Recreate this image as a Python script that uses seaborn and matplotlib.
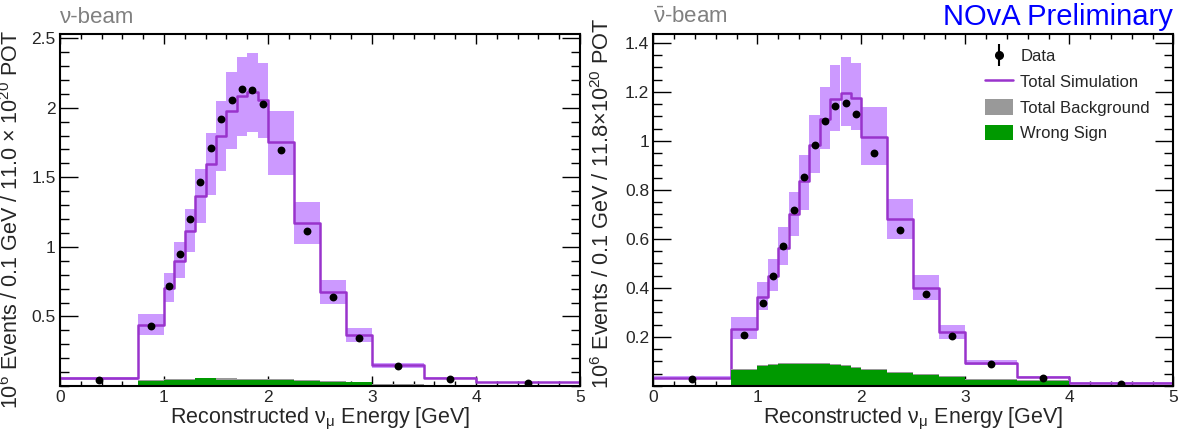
import numpy as np
import pandas as pd
import matplotlib
matplotlib.use("Agg")
import matplotlib.pyplot as plt
from matplotlib.lines import Line2D
from matplotlib.patches import Patch
from matplotlib.legend_handler import HandlerTuple
from matplotlib.ticker import FixedLocator, MultipleLocator
import seaborn as sns

# ---------------------------------------------------------------- data
# Reconstructed energy binning [GeV]
bin_edges = [0.0, 0.75, 1.0, 1.1, 1.2, 1.3, 1.4, 1.5, 1.6, 1.7, 1.8, 1.9,
             2.0, 2.25, 2.5, 2.75, 3.0, 3.5, 4.0, 5.0]

# Neutrino beam: 10^6 events / 0.1 GeV
nu_sim = [0.055, 0.44, 0.703, 0.898, 1.111, 1.366, 1.593, 1.795, 1.979, 2.082,
          2.11, 2.058, 1.752, 1.175, 0.679, 0.364, 0.154, 0.056, 0.027]
nu_sim_lo = [0.045, 0.364, 0.607, 0.774, 0.96, 1.175, 1.373, 1.545, 1.70, 1.80,
             1.824, 1.781, 1.519, 1.02, 0.586, 0.316, 0.132, 0.048, 0.022]
nu_sim_hi = [0.065, 0.52, 0.81, 1.032, 1.27, 1.557, 1.82, 2.046, 2.254, 2.368,
             2.392, 2.325, 1.979, 1.323, 0.762, 0.417, 0.168, 0.064, 0.032]
nu_data = [0.045, 0.428, 0.722, 0.948, 1.201, 1.469, 1.71, 1.917, 2.058, 2.137,
           2.13, 2.029, 1.695, 1.115, 0.643, 0.342, 0.142, 0.049, 0.018]
nu_bkg = [0.001, 0.041, 0.049, 0.049, 0.049, 0.058, 0.058, 0.054, 0.054, 0.049,
          0.049, 0.048, 0.047, 0.040, 0.033, 0.028, 0.012, 0.005, 0.002]
nu_wrong_sign = [0.0, 0.039, 0.046, 0.046, 0.046, 0.054, 0.054, 0.044, 0.044, 0.044,
                 0.044, 0.044, 0.044, 0.037, 0.030, 0.026, 0.010, 0.004, 0.002]

# Antineutrino beam: 10^6 events / 0.1 GeV
anu_sim = [0.0345, 0.232, 0.362, 0.448, 0.565, 0.70, 0.836, 0.982, 1.089, 1.169,
           1.195, 1.176, 1.016, 0.681, 0.40, 0.219, 0.0955, 0.036, 0.014]
anu_sim_lo = [0.030, 0.192, 0.312, 0.389, 0.495, 0.61, 0.72, 0.867, 0.965, 1.039,
              1.062, 1.043, 0.90, 0.599, 0.351, 0.19, 0.085, 0.031, 0.011]
anu_sim_hi = [0.039, 0.281, 0.423, 0.52, 0.647, 0.793, 0.944, 1.104, 1.22, 1.31,
              1.342, 1.317, 1.138, 0.764, 0.452, 0.247, 0.108, 0.041, 0.017]
anu_data = [0.028, 0.209, 0.34, 0.45, 0.572, 0.717, 0.852, 0.982, 1.08, 1.143,
            1.156, 1.11, 0.951, 0.637, 0.376, 0.205, 0.0914, 0.0345, 0.01]
anu_bkg = [0.002, 0.068, 0.084, 0.090, 0.094, 0.095, 0.095, 0.094, 0.093, 0.089,
           0.084, 0.079, 0.071, 0.058, 0.049, 0.039, 0.030, 0.023, 0.005]
anu_wrong_sign = [0.0, 0.064, 0.080, 0.086, 0.090, 0.091, 0.091, 0.090, 0.089, 0.085,
                  0.080, 0.075, 0.067, 0.054, 0.045, 0.035, 0.026, 0.019, 0.003]

x_ticks = [0, 1, 2, 3, 4, 5]
x_tick_labels = ["0", "1", "2", "3", "4", "5"]
nu_y_ticks = [0.5, 1.0, 1.5, 2.0, 2.5]
nu_y_tick_labels = ["0.5", "1", "1.5", "2", "2.5"]
anu_y_ticks = [0.2, 0.4, 0.6, 0.8, 1.0, 1.2, 1.4]
anu_y_tick_labels = ["0.2", "0.4", "0.6", "0.8", "1", "1.2", "1.4"]

# ---------------------------------------------------------------- style
sns.set_style("ticks")
plt.rcParams["font.family"] = ["Liberation Sans", "DejaVu Sans"]
plt.rcParams["mathtext.fontset"] = "custom"
plt.rcParams["mathtext.rm"] = "Liberation Sans"
plt.rcParams["mathtext.it"] = "Liberation Sans:italic"
plt.rcParams["mathtext.bf"] = "Liberation Sans:bold"

SIM_COLOR = "#9933cc"
BAND_COLOR = "#cc99ff"
BKG_COLOR = "#999999"
WS_COLOR = "#009900"
TAG_COLOR = "#808080"

edges = np.array(bin_edges)
centers = 0.5 * (edges[:-1] + edges[1:])
widths = np.diff(edges)

fig = plt.figure(figsize=(11.89, 4.30), dpi=100)
W, H = 1189.0, 430.0
ax_nu = fig.add_axes([60 / W, 1 - 386 / H, 520 / W, 352 / H])
ax_anu = fig.add_axes([653.3 / W, 1 - 386 / H, 520 / W, 352 / H])


def step_hist(ax, values, **kws):
    frame = pd.DataFrame({"energy": centers, "events": np.asarray(values, float)})
    sns.histplot(data=frame, x="energy", weights="events", bins=list(bin_edges),
                 element="step", ax=ax, **kws)


def draw_panel(ax, sim, lo, hi, data, bkg, ws, ymax, yticks, ylabels,
               yminor, ylabel, tag, label_x, label_y, label_size):
    lo = np.array(lo)
    hi = np.array(hi)
    # systematic band on the simulation
    ax.bar(edges[:-1], hi - lo, width=widths, bottom=lo, align="edge",
           color=BAND_COLOR, linewidth=0, zorder=1)
    # total simulation
    step_hist(ax, sim, fill=False, color=SIM_COLOR, linewidth=1.8, zorder=3)
    # backgrounds
    step_hist(ax, bkg, fill=True, color=BKG_COLOR, alpha=1, linewidth=0, zorder=4)
    step_hist(ax, ws, fill=True, color=WS_COLOR, alpha=1, linewidth=0, zorder=5)
    # data
    sns.scatterplot(x=centers, y=data, color="black", s=32, linewidth=0,
                    ax=ax, zorder=6)

    ax.set_xlim(0, 5)
    ax.set_ylim(0, ymax)
    ax.xaxis.set_major_locator(FixedLocator(x_ticks))
    ax.set_xticklabels(x_tick_labels)
    ax.xaxis.set_minor_locator(MultipleLocator(0.2))
    ax.yaxis.set_major_locator(FixedLocator(yticks))
    ax.set_yticklabels(ylabels)
    ax.yaxis.set_minor_locator(MultipleLocator(yminor))
    ax.tick_params(which="both", direction="in", top=True, right=True,
                   labelsize=12.5, width=1.0, color="black")
    ax.tick_params(axis="x", which="major", length=7, pad=3)
    ax.tick_params(axis="x", which="minor", length=3.5)
    ax.tick_params(axis="y", which="major", length=13, pad=3)
    ax.tick_params(axis="y", which="minor", length=6.5)
    for sp in ax.spines.values():
        sp.set_visible(True)
        sp.set_linewidth(1.5)
        sp.set_color("black")
        sp.set_zorder(10)

    ax.set_xlabel("Reconstructed ν$_{\\mathrm{μ}}$ Energy [GeV]", fontsize=15.5)
    ax.xaxis.set_label_coords(0.5, -0.056)
    ax.set_ylabel(ylabel, fontsize=label_size)
    ax.yaxis.set_label_coords(label_x, label_y)
    ax.text(0.0, 1.018, tag, transform=ax.transAxes, ha="left", va="bottom",
            fontsize=16, color=TAG_COLOR)


draw_panel(ax_nu, nu_sim, nu_sim_lo, nu_sim_hi, nu_data, nu_bkg, nu_wrong_sign,
           2.53, nu_y_ticks, nu_y_tick_labels, 0.1,
           "$10^{6}$ Events / 0.1 GeV / 11.0 × $10^{20}$ POT", "ν-beam",
           -0.071, 0.474, 15.5)
draw_panel(ax_anu, anu_sim, anu_sim_lo, anu_sim_hi, anu_data, anu_bkg, anu_wrong_sign,
           1.436, anu_y_ticks, anu_y_tick_labels, 0.05,
           "$10^{6}$ Events / 0.1 GeV / 11.8×$10^{20}$ POT",
           "$\\bar{\\mathrm{ν}}$-beam", -0.076, 0.52, 15.7)

ax_anu.text(1.0, 1.026, "NOvA Preliminary", transform=ax_anu.transAxes,
            ha="right", va="baseline", fontsize=21, color="#0000ff")

handles = [
    (Line2D([], [], marker="|", markersize=16, markeredgewidth=1.5, color="black",
            linestyle="none"),
     Line2D([], [], marker="o", markersize=5.5, color="black", linestyle="none")),
    Line2D([], [], color=SIM_COLOR, linewidth=1.8),
    Patch(facecolor=BKG_COLOR, edgecolor="none"),
    Patch(facecolor=WS_COLOR, edgecolor="none"),
]
labels = ["Data", "Total Simulation", "Total Background", "Wrong Sign"]
fig.legend(handles, labels, loc="upper left", bbox_to_anchor=(985 / W, 1 - 48 / H),
           frameon=False, fontsize=12, handlelength=1.7, handleheight=1.05,
           handletextpad=0.42, labelspacing=0.55, borderpad=0, borderaxespad=0,
           handler_map={tuple: HandlerTuple(ndivide=1, pad=0)})

fig.savefig("out.png", dpi=100)
